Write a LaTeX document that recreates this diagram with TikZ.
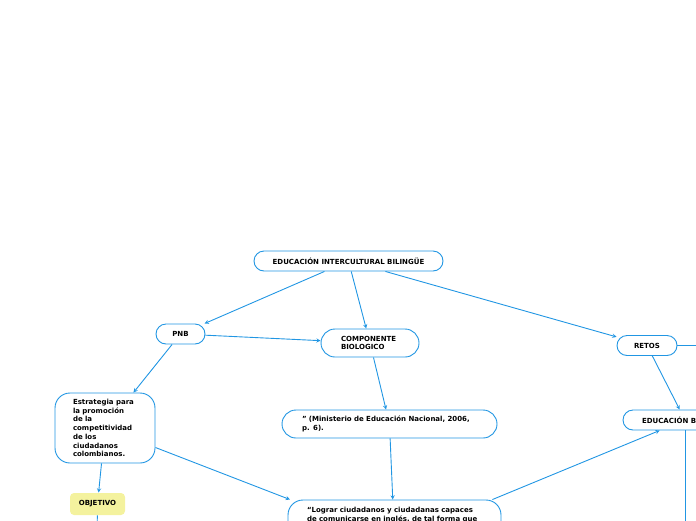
\documentclass[tikz,border=0pt]{standalone}
\usepackage{fontspec}
\setmainfont{DejaVu Sans}
\usetikzlibrary{arrows}
\definecolor{mapblue}{RGB}{33,150,227}
\definecolor{mapyellow}{RGB}{244,242,158}

\begin{document}
\begin{tikzpicture}[
            > = stealth, % arrow head style
            x = 1pt, y = -1pt, % one unit per pixel, y going down
            line width = 0.9pt, % line style
            font = \bfseries\fontsize{7}{8.7}\selectfont
        ]

        \tikzstyle{pill}=[
            draw = mapblue,
            fill = white,
            rounded corners = 10pt,
            inner sep = 0pt,
            minimum height = 20pt
        ]
        \tikzstyle{card}=[
            draw = mapblue,
            fill = white,
            rounded corners = 14pt,
            align = left,
            inner ysep = 0pt
        ]
        \tikzstyle{tag}=[
            fill = mapyellow,
            rounded corners = 4pt,
            minimum width = 55pt,
            minimum height = 22pt
        ]
        \tikzstyle{link}=[->, mapblue]

        \useasboundingbox (0,0) rectangle (696,520);
        \clip (0,0) rectangle (696,520);

        \node[pill, minimum width = 189pt] (eib) at (348.5,261) {EDUCACIÓN INTERCULTURAL BILINGÜE};
        \node[pill, minimum width = 49pt] (pnb) at (180.5,334) {PNB};
        \node[card, minimum height = 28pt, text width = 58pt, inner xsep = 20pt] (comp) at (370,343) {COMPONENTE\\BIOLOGICO};
        \node[pill, minimum width = 60pt] (retos) at (647,345.5) {RETOS};
        \node[card, rounded corners = 15pt, minimum height = 70pt, text width = 64pt, inner xsep = 18pt] (estr) at (105,428) {Estrategia para\\la promoción\\de la\\competitividad\\de los\\ciudadanos\\colombianos.};
        \node[card, minimum height = 28pt, text width = 175pt, inner xsep = 20pt] (mine) at (389.5,424) {” (Ministerio de Educación Nacional, 2006,\\p. 6).};
        \node[tag] (obj) at (97.5,504) {OBJETIVO};
        \node[card, rounded corners = 15pt, minimum height = 80pt, text width = 175pt, inner xsep = 19pt] (lograr) at (394.5,540) {\parbox[c][66pt][t]{175pt}{\raggedright “Lograr ciudadanos y ciudadanas capaces\\de comunicarse en inglés, de tal forma que}};
        \node[pill, minimum width = 124pt] (eb) at (685,420) {EDUCACIÓN BILINGÜE};

        \coordinate (retosout) at (730,345.5);
        \coordinate (objdown) at (97,540);
        \coordinate (ebdown) at (685,540);

        \path[link] (eib) edge (pnb);
        \path[link] (eib) edge (comp);
        \path[link] (eib) edge (retos);
        \path[link] (pnb) edge (comp);
        \path[link] (pnb) edge (estr);
        \path[link] (comp) edge (mine);
        \path[link] (mine) edge (lograr);
        \path[link] (estr) edge (lograr);
        \path[link] (estr) edge (obj);
        \path[link] (lograr) edge (eb);
        \path[link] (retos) edge (eb);
        \path[mapblue] (retos) edge (retosout);
        \path[mapblue] (obj) edge (objdown);
        \path[mapblue] (eb) edge (ebdown);
     \end{tikzpicture}
\end{document}
